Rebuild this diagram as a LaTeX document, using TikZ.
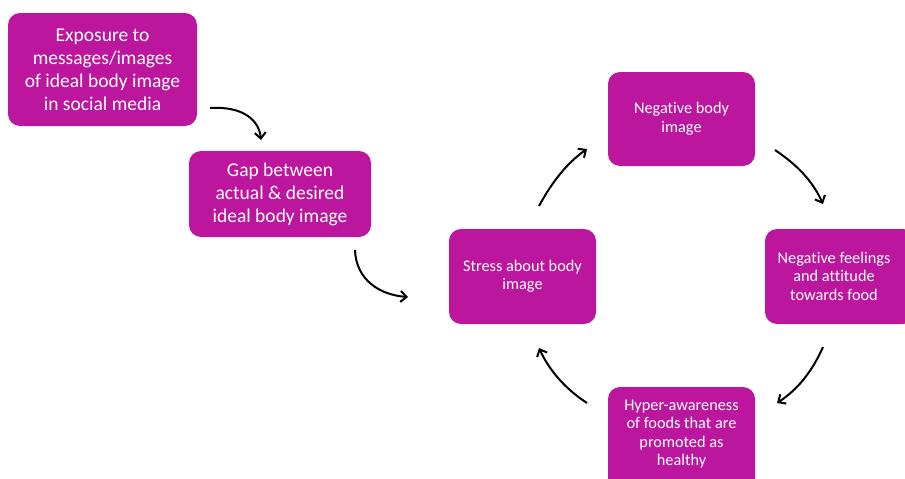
\documentclass[tikz,border=0pt]{standalone}
\usepackage{fontspec}
\setmainfont[Ligatures=CommonOff]{Carlito}
\usetikzlibrary{arrows.meta}
\definecolor{boxfill}{RGB}{188,22,158}
\tikzset{
  stagebox/.style={fill=boxfill, rounded corners=12pt},
  bigtext/.style={text=white, align=center, font=\fontsize{19.5}{23}\selectfont},
  smalltext/.style={text=white, align=center, font=\fontsize{16.3}{18.5}\selectfont},
  flow/.style={line width=2pt, -{Straight Barb[length=6pt,width=11pt,line width=2pt]}}
}
\begin{document}
\begin{tikzpicture}[x=1pt,y=-1pt]
\useasboundingbox (0,0) rectangle (905,479);
\clip (0,0) rectangle (905,479);
% boxes
\fill[stagebox] (8,13) rectangle (197,126);
\node[bigtext] (expo) at (102.5,69.5) {Exposure to\\messages/images\\of ideal body image\\in social media};
\fill[stagebox] (189,151) rectangle (371,237);
\node[bigtext] (gap) at (280,194) {Gap between\\actual \& desired\\ideal body image};
\fill[stagebox] (608,72) rectangle (755,166);
\node[smalltext] (neg) at (681.5,118.5) {Negative body\\image};
\fill[stagebox] (449,229) rectangle (596,324);
\node[smalltext] (stress) at (522.5,276) {Stress about body\\image};
\fill[stagebox] (765,229) rectangle (915,324);
\node[smalltext] (feel) at (834,276) {Negative feelings\\and attitude\\towards food};
\fill[stagebox] (608,387) rectangle (755,495);
\node[smalltext] (hyper) at (681.5,434) {Hyper-awareness\\of foods that are\\promoted as\\healthy};
% arrow end points
\coordinate (a1s) at (210,108); \coordinate (a1e) at (261,140);
\coordinate (a2s) at (355,250); \coordinate (a2e) at (408,297);
\coordinate (a3s) at (539,206); \coordinate (a3e) at (587,149);
\coordinate (a4s) at (775,150); \coordinate (a4e) at (823,204);
\coordinate (a5s) at (823,347); \coordinate (a5e) at (777,403);
\coordinate (a6s) at (587,403); \coordinate (a6e) at (539,348);
% arrows
\draw[flow] (a1s) .. controls (243,106) and (259,120) .. (a1e);
\draw[flow] (a2s) .. controls (356,280) and (380,295) .. (a2e);
\draw[flow] (a3s) .. controls (552,182) and (567,163) .. (a3e);
\draw[flow] (a4s) .. controls (797,165) and (812,180) .. (a4e);
\draw[flow] (a5s) .. controls (812,372) and (797,390) .. (a5e);
\draw[flow] (a6s) .. controls (567,390) and (550,372) .. (a6e);
\end{tikzpicture}
\end{document}
